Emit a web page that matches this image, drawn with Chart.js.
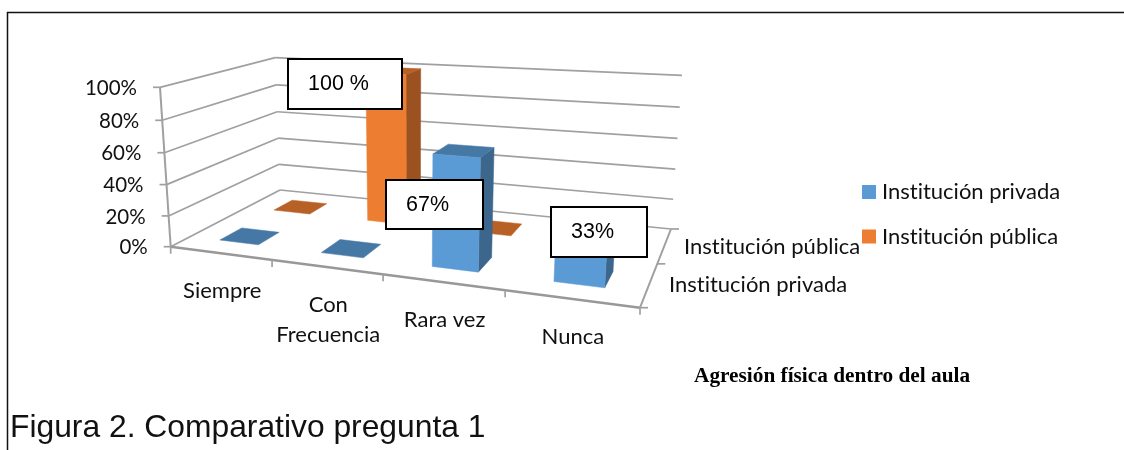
<!DOCTYPE html>
<html><head><meta charset="utf-8">
<style>html,body{margin:0;padding:0;background:#fff}#w{width:1124px;height:450px;position:relative}</style>
<script src="https://cdn.jsdelivr.net/npm/chart.js@4/dist/chart.umd.js"></script>
</head><body><div id="w"><canvas id="c" width="1124" height="450"></canvas></div>
<script>
const categories = [["Siempre"], ["Con","Frecuencia"], ["Rara vez"], ["Nunca"]];
const seriesNames = ["Institución privada", "Institución pública"];
const privada = [0, 0, 67, 33];
const publica = [0, 100, 0, 0];
const valueTicks = [0, 20, 40, 60, 80, 100];
const callouts = ["100 %", "67%", "33%"];
const figureCaption = "Figura 2. Comparativo pregunta 1";
const chartCaption = "Agresión física dentro del aula";

// Perspective camera for the plot box: floor corners plus three roof corners
const FLOOR = [[170.7,246.7],[640,307.7],[671,229],[280,190]];
const ROOF_FL=[160,87.3], ROOF_BL=[273,56], ROOF_BR=[682,77.3];
const cam=(function(q){
  const [[x0,y0],[x1,y1],[x2,y2],[x3,y3]]=q;
  const dx1=x1-x2,dx2=x3-x2,sx=x0-x1+x2-x3,dy1=y1-y2,dy2=y3-y2,sy=y0-y1+y2-y3;
  const det=dx1*dy2-dx2*dy1;
  const g=(sx*dy2-dx2*sy)/det,h=(dx1*sy-sx*dy1)/det;
  const a=x1-x0+g*x1,b=x3-x0+h*x3,d=y1-y0+g*y1,e=y3-y0+h*y3;
  const w=(u,v)=>g*u+h*v+1;
  const nx=(u,v)=>a*u+b*v+x0, ny=(u,v)=>d*u+e*v+y0;
  const pts=[[0,0,ROOF_FL],[0,1,ROOF_BL],[1,1,ROOF_BR]];
  const r1=ROOF_FL[0]*w(0,0)-nx(0,0), r2=ROOF_BR[0]*w(1,1)-nx(1,1);
  const cw=(r1-r2)/(ROOF_BR[0]-ROOF_FL[0]);
  const cx=r1+ROOF_FL[0]*cw;
  let cy=0;pts.forEach(p=>{cy+=p[2][1]*(w(p[0],p[1])+cw)-ny(p[0],p[1]);});cy/=3;
  return {a,b,d,e,g,h,x0,y0,cx,cy,cw};
})(FLOOR);
function P(u,v,t){const c=cam,w=c.g*u+c.h*v+1+c.cw*t;
  return [(c.a*u+c.b*v+c.x0+c.cx*t)/w,(c.d*u+c.e*v+c.y0+c.cy*t)/w];}
function shade(c,f){const n=parseInt(c.slice(1),16);return `rgb(${(n>>16)*f|0},${((n>>8)&255)*f|0},${(n&255)*f|0})`;}
function poly(ctx,pts,fill){ctx.beginPath();pts.forEach((p,i)=>i?ctx.lineTo(p[0],p[1]):ctx.moveTo(p[0],p[1]));ctx.closePath();ctx.fillStyle=fill;ctx.fill();ctx.strokeStyle=fill;ctx.lineWidth=.5;ctx.stroke();}
function line(ctx,a,b,w,col){ctx.beginPath();ctx.moveTo(a[0],a[1]);ctx.lineTo(b[0],b[1]);ctx.lineWidth=w;ctx.strokeStyle=col||'#a0a0a0';ctx.stroke();}

const ROW_DEPTH=0.38;
class Bar3D extends Chart.BarElement{
  draw(ctx){
    const ca=this._ca, di=this._di;
    const u0=(this.x-this.width/2-ca.left)/ca.width,u1=(this.x+this.width/2-ca.left)/ca.width;
    const t=(this.base-this.y)/ca.height;
    const v0=(di+(1-ROW_DEPTH)/2)/2,v1=v0+ROW_DEPTH/2;
    const col=this.options.backgroundColor;
    ctx.save();
    if(t>0) poly(ctx,[P(u1,v0,0),P(u1,v1,0),P(u1,v1,t),P(u1,v0,t)],shade(col,.66));
    poly(ctx,[P(u0,v0,t),P(u1,v0,t),P(u1,v1,t),P(u0,v1,t)],shade(col,.78));
    if(t>0) poly(ctx,[P(u0,v0,0),P(u1,v0,0),P(u1,v0,t),P(u0,v0,t)],col);
    ctx.restore();
  }
}
Bar3D.id='bar3d';Bar3D.defaults=Chart.BarElement.defaults;
class Bar3DController extends Chart.BarController{
  draw(){
    const meta=this.getMeta();
    meta.data.forEach(e=>{e._ca=this.chart.chartArea;e._di=this.index;});
    super.draw();
  }
}
Bar3DController.id='bar3d';
Bar3DController.defaults={...Chart.BarController.defaults,dataElementType:'bar3d'};
Bar3DController.overrides=Chart.BarController.overrides;
Chart.register(Bar3D,Bar3DController);

const UI='Lato';
const scene={
  id:'scene',
  beforeDatasetsDraw(chart){
    const ctx=chart.ctx,ys=chart.scales.y,xs=chart.scales.x,ca=chart.chartArea;
    ctx.save();
    ctx.lineCap='butt';
    ys.ticks.forEach(tk=>{
      const t=(ca.bottom-ys.getPixelForValue(tk.value))/ca.height;
      line(ctx,P(0,0,t),P(0,1,t),1.7);
      line(ctx,P(0,1,t),P(1,1,t),1.7);
      const a=P(0,0,t);line(ctx,a,[a[0]-7,a[1]],1.7);
    });
    line(ctx,P(0,0,0),P(0,0,1),2);
    line(ctx,P(0,0,0),P(1,0,0),2.4,'#989898');
    line(ctx,P(1,0,0),P(1,1,0),2);
    const n=xs.getLabels().length;
    for(let i=0;i<=n;i++){const a=P(i/n,0,0);line(ctx,a,[a[0],a[1]+7],1.7);}
    [0,.5,1].forEach(v=>{const a=P(1,v,0);line(ctx,a,[a[0]+8,a[1]],1.7);});
    ctx.restore();
  },
  afterDraw(chart){
    const ctx=chart.ctx,ys=chart.scales.y,xs=chart.scales.x,ca=chart.chartArea;
    ctx.save();
    ctx.textRendering='optimizeSpeed';
    ctx.textBaseline='middle';ctx.fillStyle='#111';
    // value axis labels
    ctx.font='20.5px '+UI;ctx.textAlign='right';
    ys.ticks.forEach(tk=>{
      const t=(ca.bottom-ys.getPixelForValue(tk.value))/ca.height;
      const a=P(0,0,t);ctx.fillText(tk.label,a[0]-23,a[1]+1);
    });
    // category labels
    ctx.font='22px '+UI;ctx.textAlign='center';
    const labels=xs.getLabels();
    labels.forEach((lb,i)=>{
      const a=P((xs.getPixelForValue(i)-ca.left)/ca.width,0,0);
      lb.forEach((s,k)=>ctx.fillText(s,a[0]+2,a[1]+38+k*30));
    });
    // depth axis labels
    ctx.textAlign='left';
    ctx.fillText(seriesNames[0],669,285);
    ctx.fillText(seriesNames[1],684,247);
    // legend
    chart.data.datasets.forEach((d,i)=>{
      const y=192+i*44.5;
      ctx.fillStyle=d.backgroundColor;ctx.fillRect(862,y-7,14,14);
      ctx.fillStyle='#111';ctx.fillText(d.label,882,y);
    });
    ctx.textRendering='auto';
    // callout boxes
    [[288,59,114,50],[386,180,97,49],[551,207,96,50]].forEach((r,i)=>{
      ctx.fillStyle='#fff';ctx.fillRect(r[0],r[1],r[2],r[3]);
      ctx.strokeStyle='#000';ctx.lineWidth=2;ctx.strokeRect(r[0],r[1],r[2],r[3]);
      ctx.fillStyle='#000';ctx.font='21.5px "Liberation Sans"';ctx.textAlign='left';
      ctx.fillText(callouts[i],r[0]+20,r[1]+25);
    });
    // captions
    ctx.fillStyle='#000';ctx.textAlign='left';
    ctx.font='bold 21.3px "Liberation Serif"';ctx.fillText(chartCaption,694,376);
    ctx.font='31.8px "Liberation Sans"';ctx.fillStyle='#111';ctx.fillText(figureCaption,10,428);
    // frame
    ctx.strokeStyle='#111';ctx.lineWidth=1.5;
    ctx.beginPath();ctx.moveTo(7.5,450);ctx.lineTo(7.5,12.5);ctx.lineTo(1124,12.5);ctx.stroke();
    ctx.restore();
  }
};
new Chart(document.getElementById('c'),{
  type:'bar3d',
  data:{labels:categories,datasets:[
    {label:seriesNames[0],data:privada,backgroundColor:'#5b9bd5'},
    {label:seriesNames[1],data:publica,backgroundColor:'#ed7d31'}
  ]},
  options:{
    responsive:false,animation:false,
    layout:{padding:0},
    datasets:{bar3d:{grouped:false,categoryPercentage:0.39,barPercentage:1}},
    scales:{
      x:{type:'category',offset:true,display:false},
      y:{type:'linear',min:0,max:100,display:false,afterBuildTicks(s){s.ticks=valueTicks.map(v=>({value:v}));},ticks:{autoSkip:false,callback:v=>v+'%'}}
    },
    plugins:{legend:{display:false},tooltip:{enabled:false}}
  },
  plugins:[scene]
});
</script></body></html>
